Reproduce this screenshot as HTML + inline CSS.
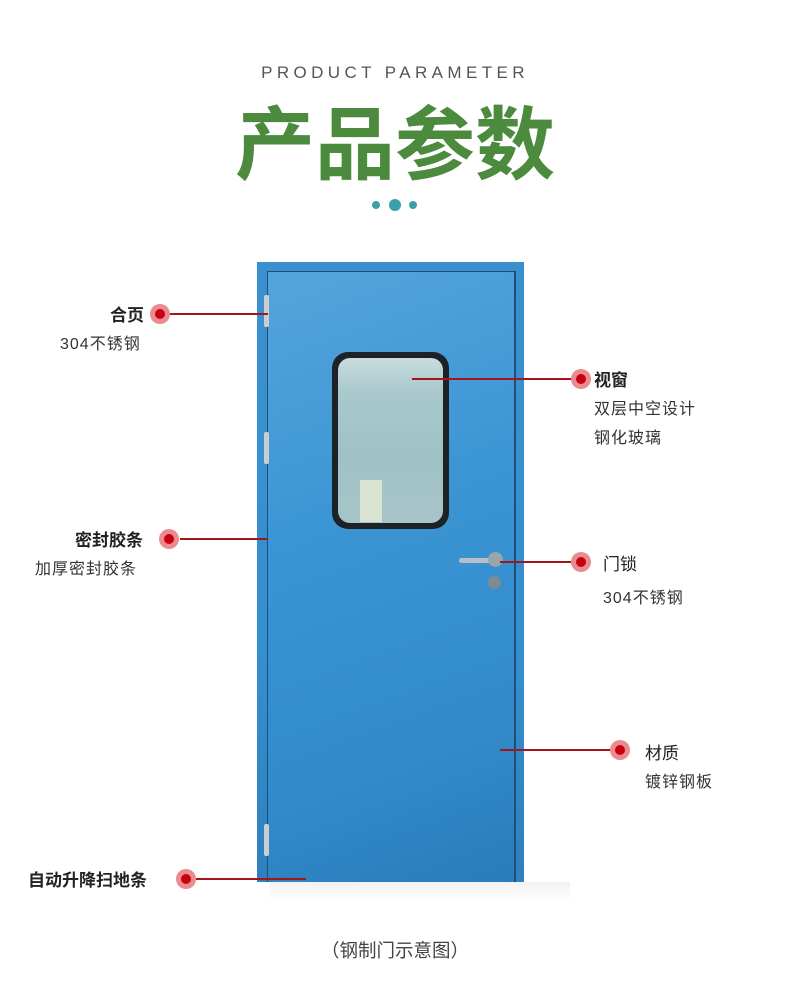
<!DOCTYPE html>
<html><head><meta charset="utf-8"><style>
body{margin:0;width:790px;height:981px;background:#fff;position:relative;overflow:hidden;font-family:"Liberation Sans","Noto Sans CJK SC",sans-serif;}
.a{position:absolute;white-space:nowrap;}
.t{font-size:17px;font-weight:bold;color:#222;line-height:20px;}
.s{font-size:16px;letter-spacing:1px;color:#333;line-height:18px;}
.dot{position:absolute;width:20px;height:20px;border-radius:50%;background:#e98b8f;}
.dot::after{content:"";position:absolute;left:5px;top:5px;width:10px;height:10px;border-radius:50%;background:#c80010;}
.ln{position:absolute;height:2px;background:#a3141c;}
</style></head><body>
<div class="a" style="left:0;width:790px;top:63px;text-align:center;font-size:17px;letter-spacing:4.4px;color:#555;">PRODUCT PARAMETER</div>
<div class="a" style="left:0;width:790px;top:91px;text-align:center;font-size:80px;font-weight:bold;color:#4c8a3e;line-height:96px;font-family:'Noto Sans CJK SC',sans-serif;">产品参数</div>
<div class="a" style="left:372px;top:201px;width:8px;height:8px;border-radius:50%;background:#3aa0a8"></div>
<div class="a" style="left:389px;top:199px;width:12px;height:12px;border-radius:50%;background:#3aa0a8"></div>
<div class="a" style="left:409px;top:201px;width:8px;height:8px;border-radius:50%;background:#3aa0a8"></div>

<!-- door -->
<div class="a" style="left:257px;top:262px;width:267px;height:620px;background:linear-gradient(180deg,#3a90cf,#3590cf 60%,#2e80bf);"></div>
<div class="a" style="left:267px;top:271px;width:246px;height:610px;border-left:1px solid #1d4f7a;border-top:1px solid #1d4f7a;border-right:2px solid #1d4f7a;background:linear-gradient(160deg,#55a4dc,#3b95d3 40%,#3189c8 80%,#2a7bba);"></div>
<div class="a" style="left:264px;top:295px;width:5px;height:32px;background:#c9ced2;border-radius:2px"></div>
<div class="a" style="left:264px;top:432px;width:5px;height:32px;background:#c9ced2;border-radius:2px"></div>
<div class="a" style="left:264px;top:824px;width:5px;height:32px;background:#c9ced2;border-radius:2px"></div>
<div class="a" style="left:332px;top:352px;width:117px;height:177px;background:#1d2226;border-radius:16px"></div>
<div class="a" style="left:338px;top:358px;width:105px;height:165px;background:linear-gradient(180deg,#c9dde0,#a9c9cc 20%,#9fc1c6 60%,#a7c5c8);border-radius:12px"></div>
<div class="a" style="left:360px;top:480px;width:22px;height:42px;background:#d8e4d0"></div>
<div class="a" style="left:459px;top:558px;width:36px;height:5px;background:#b8c0c6;border-radius:3px"></div>
<div class="a" style="left:488px;top:552px;width:15px;height:15px;background:#9aa4ab;border-radius:50%"></div>
<div class="a" style="left:488px;top:576px;width:13px;height:13px;background:#7f8a92;border-radius:50%"></div>
<div class="a" style="left:270px;top:882px;width:300px;height:20px;background:linear-gradient(180deg,#f2f2f2,#fff)"></div>

<!-- labels -->
<div class="ln" style="left:170px;top:313px;width:98px"></div><div class="dot" style="left:150px;top:304px"></div>
<div class="a t" style="right:646px;top:306px">合页</div>
<div class="a s" style="left:60px;top:336px">304不锈钢</div>

<div class="ln" style="left:412px;top:378px;width:160px"></div><div class="dot" style="left:571px;top:369px"></div>
<div class="a t" style="left:594px;top:371px">视窗</div>
<div class="a s" style="left:594px;top:401px">双层中空设计</div>
<div class="a s" style="left:594px;top:430px">钢化玻璃</div>

<div class="ln" style="left:180px;top:538px;width:88px"></div><div class="dot" style="left:159px;top:529px"></div>
<div class="a t" style="right:647px;top:531px">密封胶条</div>
<div class="a s" style="left:35px;top:561px">加厚密封胶条</div>

<div class="ln" style="left:500px;top:561px;width:72px"></div><div class="dot" style="left:571px;top:552px"></div>
<div class="a t" style="left:603px;top:555px;font-weight:normal">门锁</div>
<div class="a s" style="left:603px;top:590px">304不锈钢</div>

<div class="ln" style="left:500px;top:749px;width:111px"></div><div class="dot" style="left:610px;top:740px"></div>
<div class="a t" style="left:645px;top:744px;font-weight:normal">材质</div>
<div class="a s" style="left:645px;top:774px">镀锌钢板</div>

<div class="ln" style="left:196px;top:878px;width:110px"></div><div class="dot" style="left:176px;top:869px"></div>
<div class="a t" style="left:28px;top:871px">自动升降扫地条</div>

<div class="a" style="left:0;width:790px;top:937px;text-align:center;font-size:18.5px;color:#444">（钢制门示意图）</div>
</body></html>
